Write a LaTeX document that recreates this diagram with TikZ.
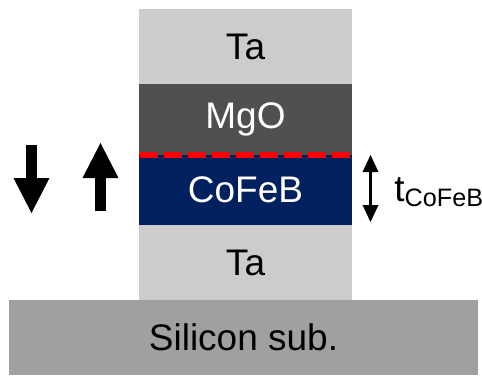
\documentclass[tikz,border=0pt]{standalone}
\usepackage{fontspec}
\setmainfont{Liberation Sans}
\usepackage{xcolor}
\usepackage{tikz}
\usetikzlibrary{positioning,arrows.meta}
\definecolor{tagray}{RGB}{204,204,204}
\definecolor{mgogray}{RGB}{80,80,80}
\definecolor{cfbblue}{RGB}{0,32,96}
\definecolor{subgray}{RGB}{160,160,160}
\newcommand{\lyfont}{\fontsize{18.5}{22}\selectfont}

\begin{document}
\begin{tikzpicture}[x=0.5pt,y=-0.5pt,node distance=0pt,lay/.style={inner sep=0pt,outer sep=0pt,minimum width=106.5pt,align=center,font=\lyfont},spin/.style={line width=5.75pt,-{Triangle[width=18pt,length=17.5pt,line width=0pt]}}]
\useasboundingbox (0,0) rectangle (482,375);
\node[lay,fill=tagray,minimum height=37.5pt,anchor=north] (tatop) at (245.5,9) {Ta};
\node[lay,below=of tatop,fill=mgogray,text=white,minimum height=35.5pt] (mgo) {\raisebox{-4pt}{MgO}};
\node[lay,below=of mgo,fill=cfbblue,text=white,minimum height=35pt] (cofeb) {CoFeB};
\node[lay,below=of cofeb,fill=tagray,minimum height=37.5pt] (tabot) {Ta};
\node[lay,below=of tabot,xshift=-1pt,fill=subgray,minimum width=234.5pt,minimum height=37.5pt] (sub) {Silicon sub.};
\draw[red,line width=3pt,dash pattern=on 9pt off 3pt] ([xshift=0.5pt]mgo.south west)--(mgo.south east);
% magnetisation arrows
\coordinate (dntop) at (31.5,145); \coordinate (dnbot) at (31.5,213);
\coordinate (upbot) at (100.5,211); \coordinate (uptop) at (100.5,143);
\draw[spin] (dntop)--(dnbot); \draw[spin] (upbot)--(uptop);
% thickness
\coordinate (thtop) at (370.5,155); \coordinate (thbot) at (370.5,222);
\draw[line width=1.25pt,{Triangle[width=8pt,length=8.5pt,line width=0pt]}-{Triangle[width=8pt,length=8.5pt,line width=0pt]}] (thtop)--(thbot);
\node[anchor=base west,inner sep=0pt,font=\lyfont] (tlbl) at (394,201) {t\raisebox{-2.5pt}{\fontsize{12.6}{14}\selectfont CoFeB}};
\end{tikzpicture}
\end{document}
